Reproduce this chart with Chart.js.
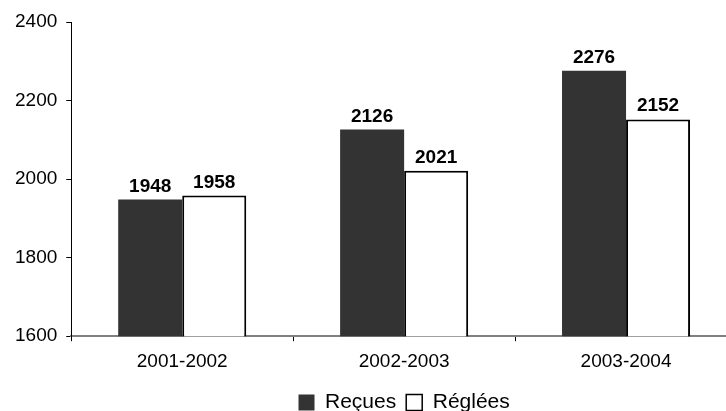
<!DOCTYPE html>
<html>
<head>
<meta charset="utf-8">
<script src="https://cdn.jsdelivr.net/npm/chart.js@4/dist/chart.umd.min.js"></script>
<style>
  html, body { margin: 0; padding: 0; background: #fff; overflow: hidden; }
  #wrap { width: 740px; height: 423px; position: relative; }
</style>
</head>
<body>
<div id="wrap"><canvas id="plaintesChart"></canvas></div>
<script>
// Valeurs
const periodes = ['2001-2002', '2002-2003', '2003-2004'];
const recues = [1948, 2126, 2276];
const reglees = [1958, 2021, 2152];
const yTicks = [1600, 1800, 2000, 2200, 2400];

const police = "'Liberation Sans', Arial, sans-serif";

// étiquettes au-dessus des barres
const etiquettes = {
    id: 'etiquettes',
    afterDatasetsDraw(chart) {
        const c = chart.ctx;
        c.save();
        c.font = 'bold 19px ' + police;
        c.fillStyle = '#000';
        c.textAlign = 'center';
        c.textBaseline = 'alphabetic';
        chart.data.datasets.forEach((ds, i) => {
            chart.getDatasetMeta(i).data.forEach((bar, j) => {
                c.fillText(ds.data[j], bar.x, bar.y - 8);
            });
        });
        c.restore();
    }
};

const ctx = document.getElementById('plaintesChart').getContext('2d');
const plaintesChart = new Chart(ctx, {
    type: 'bar',
    data: {
        labels: periodes,
        datasets: [{
            label: 'Reçues',
            data: recues,
            backgroundColor: '#333333',
            borderColor: '#333333',
            borderWidth: 0
        }, {
            label: 'Réglées',
            data: reglees,
            backgroundColor: '#ffffff',
            borderColor: '#000000',
            borderWidth: 2,
            borderSkipped: false
        }]
    },
    options: {
        responsive: true,
        maintainAspectRatio: false,
        animation: false,
        layout: { padding: { top: 22, left: 6, right: 3, bottom: 0 } },
        datasets: {
            bar: { categoryPercentage: 0.577, barPercentage: 1 }
        },
        scales: {
            x: {
                grid: { display: true, drawOnChartArea: false, drawTicks: true, tickLength: 5, color: '#000', offset: true },
                border: { display: true, color: '#808080', width: 2 },
                ticks: { color: '#000', font: { family: police, size: 19 }, padding: 9 }
            },
            y: {
                min: 1600,
                max: 2400,
                afterBuildTicks(axis) { axis.ticks = yTicks.map(v => ({ value: v })); },
                grid: { display: true, drawOnChartArea: false, drawTicks: true, tickLength: 5, color: '#000' },
                border: { display: true, color: '#000', width: 1 },
                ticks: {
                    color: '#000',
                    font: { family: police, size: 19 },
                    padding: 9,
                    callback: v => String(v)
                }
            }
        },
        plugins: {
            tooltip: { enabled: false },
            legend: {
                position: 'bottom',
                fullSize: false,
                labels: {
                    color: '#000',
                    font: { family: police, size: 21 },
                    boxWidth: 16,
                    boxHeight: 16,
                    padding: 10,
                    generateLabels(chart) {
                        return chart.data.datasets.map((ds, i) => ({
                            text: ds.label,
                            fillStyle: ds.backgroundColor,
                            strokeStyle: i === 0 ? '#333333' : '#000000',
                            lineWidth: i === 0 ? 0 : 1.5,
                            datasetIndex: i,
                            fontColor: '#000'
                        }));
                    }
                }
            }
        }
    },
    plugins: [etiquettes]
});
</script>
</body>
</html>
